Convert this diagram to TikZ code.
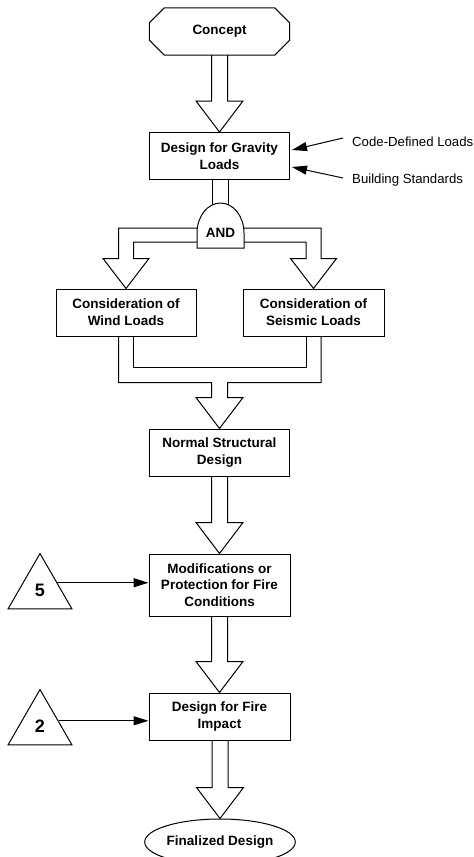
\documentclass[tikz,border=0pt]{standalone}
\usepackage{fontspec}
\setmainfont{Liberation Sans}
\usetikzlibrary{arrows.meta,shapes.geometric,calc}

% Block arrow pointing down from a box bottom (#1) to the tip anchor (#2)
\newcommand{\blockdown}[2]{%
  \draw[ln] let \p1=(#1), \p2=(#2) in
    (\x2-8pt,\y1) -- (\x2-8pt,\y2+31pt) -- (\x2-23.5pt,\y2+31pt) -- (\p2)
    -- (\x2+23.5pt,\y2+31pt) -- (\x2+8pt,\y2+31pt) -- (\x2+8pt,\y1);}

\begin{document}
\begin{tikzpicture}[x=1pt,y=-1pt,
  every node/.style={font=\fontsize{13.5}{16.7}\selectfont\bfseries, align=center, inner sep=0pt},
  ln/.style={line width=1pt, line join=miter},
  box/.style={draw, line width=1pt, minimum width=140pt, minimum height=47pt},
  ptr/.style={ln, -{Triangle[length=15pt,width=9pt]}},
  tri/.style={draw, line width=1pt, regular polygon, regular polygon sides=3,
              minimum size=73.9pt, inner sep=0pt, font=\fontsize{18}{20}\selectfont\bfseries},
  lbl/.style={font=\fontsize{13.2}{15}\selectfont, anchor=west}
]
\useasboundingbox (0,0) rectangle (474,857);

% start terminal (octagon)
\node[minimum width=140pt, minimum height=47pt] (concept) at (219.5,31.5) {Concept};
\draw[ln] let \p1=(concept.north west), \p2=(concept.south east) in
  (\x1+15pt,\y1) -- (\x2-15pt,\y1) -- (\x2,\y1-15pt) -- (\x2,\y2+15pt)
  -- (\x2-15pt,\y2) -- (\x1+15pt,\y2) -- (\x1,\y2+15pt) -- (\x1,\y1-15pt) -- cycle;

% process boxes
\node[box] (grav) at (219.5,156) {Design for Gravity\\Loads};
\node[box] (wind) at (126,312.5) {Consideration of\\Wind Loads};
\node[box, minimum width=141pt] (seis) at (313.5,312.5) {Consideration of\\Seismic Loads};
\node[box] (norm) at (219.5,452.5) {Normal Structural\\Design};
\node[box, minimum width=141pt, minimum height=62pt] (mod) at (219.5,585) {Modifications or\\Protection for Fire\\Conditions};
\node[box, minimum width=141pt] (fire) at (219.5,716.5) {Design for Fire\\Impact};
\node[draw, ellipse, line width=1pt, minimum width=142pt, minimum height=46pt, inner sep=0pt] (final) at (220,842) {Finalized Design};

% AND gate
\node (and) at (220.5,233) {AND};
\draw[ln] let \p1=(and) in
  (\x1-23.5pt,\y1-15pt) -- (\x1-23.5pt,\y1)
  arc[start angle=180, end angle=0, x radius=23.5pt, y radius=30pt]
  -- (\x1+23.5pt,\y1-15pt) -- cycle;

% side inputs
\node[lbl] (code) at (352,142) {Code-Defined Loads};
\node[lbl] (bstd) at (352,180) {Building Standards};
\draw[ptr] ($(code.west)+(-9,-4)$) -- ($(grav.east)+(2,-6)$);
\draw[ptr] ($(bstd.west)+(-9,-2)$) -- ($(grav.east)+(2,11)$);

\node[tri] (t5) at (40,590.5) {5};
\node[tri] (t2) at (40,726.5) {2};
\draw[ptr] (t5.24) -- (t5.24 -| mod.west);
\draw[ptr] (t2.17) -- (t2.17 -| fire.west);

% block arrows
\blockdown{concept.south}{grav.north}
\draw[ln] let \p1=(grav.south), \p2=(and) in
  (\x2-8pt,\y1) -- (\x2-8pt,\y2+28.2pt) (\x2+8pt,\y1) -- (\x2+8pt,\y2+28.2pt);

% split after the AND gate
\draw[ln] let \p1=(wind.north), \p2=(and) in
  (\x2-23.2pt,\y2+5pt) -- (\x1-7.5pt,\y2+5pt) -- (\x1-7.5pt,\y1+30pt) -- (\x1-23pt,\y1+30pt)
  -- (\p1) -- (\x1+23pt,\y1+30pt) -- (\x1+7.5pt,\y1+30pt) -- (\x1+7.5pt,\y2-9pt) -- (\x2-23.5pt,\y2-9pt);
\draw[ln] let \p1=(seis.north), \p2=(and) in
  (\x2+23.2pt,\y2+5pt) -- (\x1+7.5pt,\y2+5pt) -- (\x1+7.5pt,\y1+30pt) -- (\x1+23pt,\y1+30pt)
  -- (\p1) -- (\x1-23pt,\y1+30pt) -- (\x1-7.5pt,\y1+30pt) -- (\x1-7.5pt,\y2-9pt) -- (\x2+23.5pt,\y2-9pt);

% merge into normal structural design
\draw[ln] let \p1=(wind.south), \p2=(seis.south), \p3=(norm.north) in
  (\x1-7.5pt,\y1) -- (\x1-7.5pt,\y3+46pt) -- (\x3-8pt,\y3+46pt) -- (\x3-8pt,\y3+31pt)
  -- (\x3-23.5pt,\y3+31pt) -- (\p3) -- (\x3+23.5pt,\y3+31pt) -- (\x3+8pt,\y3+31pt)
  -- (\x3+8pt,\y3+46pt) -- (\x2+7.5pt,\y3+46pt) -- (\x2+7.5pt,\y2);
\draw[ln] let \p1=(wind.south), \p2=(seis.south) in
  (\x1+7.5pt,\y1) -- (\x1+7.5pt,\y1-31pt) -- (\x2-7.5pt,\y1-31pt) -- (\x2-7.5pt,\y2);

\blockdown{norm.south}{mod.north}
\blockdown{mod.south}{fire.north}
\blockdown{fire.south}{final.north}
\end{tikzpicture}
\end{document}
